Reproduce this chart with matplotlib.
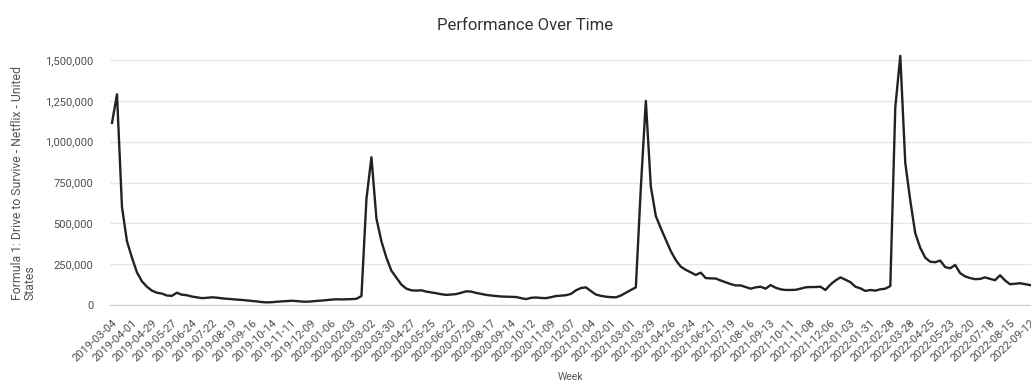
#!/usr/bin/env python
"""
weekly viewing performance chart
"""

import numpy as np
import pandas as pd
from matplotlib import pyplot as plt
from matplotlib.ticker import FuncFormatter

plt.rcParams["font.family"] = ["Roboto", "DejaVu Sans"]

# first week of the series and the weekly values
start_week = "2019-03-04"
views = [
    1115000, 1290000, 600000, 390000, 290000, 200000, 145000, 112000, 88000, 75000,
    70000, 58000, 56000, 75000, 63000, 60000, 52000, 47000, 42000, 44000,
    47000, 45000, 41000, 38000, 36000, 33000, 31000, 28000, 25000, 22000,
    18000, 16000, 17000, 20000, 22000, 24000, 26000, 24000, 21000, 20000,
    22000, 25000, 27000, 30000, 33000, 35000, 34000, 35000, 36000, 38000,
    55000, 650000, 905000, 530000, 390000, 290000, 210000, 168000, 125000, 100000,
    90000, 88000, 90000, 82000, 77000, 72000, 66000, 62000, 64000, 67000,
    75000, 84000, 82000, 74000, 68000, 62000, 58000, 55000, 52000, 51000,
    50000, 49000, 42000, 36000, 44000, 46000, 43000, 42000, 48000, 55000,
    57000, 60000, 68000, 90000, 104000, 108000, 85000, 64000, 56000, 51000,
    48000, 47000, 58000, 75000, 92000, 108000, 720000, 1250000, 725000, 545000,
    470000, 400000, 330000, 275000, 235000, 215000, 200000, 184000, 198000, 165000,
    163000, 162000, 150000, 139000, 128000, 120000, 120000, 110000, 100000, 108000,
    112000, 100000, 122000, 106000, 96000, 92000, 92000, 93000, 100000, 108000,
    110000, 110000, 112000, 92000, 125000, 150000, 169000, 155000, 140000, 112000,
    102000, 86000, 92000, 88000, 96000, 100000, 116000, 1210000, 1525000, 870000,
    640000, 440000, 350000, 290000, 265000, 262000, 272000, 232000, 225000, 245000,
    195000, 175000, 165000, 158000, 160000, 169000, 160000, 152000, 182000, 150000,
    127000, 130000, 133000, 128000, 122000,
]
y_ticks = [0, 250000, 500000, 750000, 1000000, 1250000, 1500000]

weeks = pd.date_range(start_week, periods=len(views), freq="7D")
x = np.arange(len(views))
label_idx = x[::4]
labels = [weeks[i].strftime("%Y-%m-%d") for i in label_idx]

fig = plt.figure(figsize=(10.31, 3.82), dpi=100)
ax = fig.add_axes([110 / 1031, 77 / 382, 921 / 1031, 245 / 382])

# line
ax.plot(x, views, color="#222222", linewidth=1.7, clip_on=False, zorder=3)

# axes limits and ticks
ax.set_xlim(-0.4, 184.2)
ax.set_ylim(0, 1500000)
ax.set_yticks(y_ticks)
ax.yaxis.set_major_formatter(FuncFormatter(lambda v, p: f"{int(v):,}"))
ax.set_xticks(label_idx)
ax.set_xticklabels(labels, rotation=43, ha="right", rotation_mode="anchor",
                   fontsize=8, color="#4d4d4d")
ax.tick_params(axis="y", labelsize=8, labelcolor="#4d4d4d", length=0, pad=12)
ax.tick_params(axis="x", length=0, pad=9)

# grid and spines
ax.grid(axis="y", color="#e6e6e6", linewidth=1)
ax.set_axisbelow(True)
for side in ["top", "right", "left"]:
    ax.spines[side].set_visible(False)
ax.spines["bottom"].set_color("#cccccc")

# texts
ax.set_ylabel("Formula 1: Drive to Survive - Netflix - United\nStates",
              fontsize=8.8, color="#555555", multialignment="left",
              linespacing=0.95, labelpad=6)
ax.set_xlabel("Week", fontsize=7.5, color="#555555", labelpad=6)
fig.text(525 / 1031, 1 - 26 / 382, "Performance Over Time", ha="center",
         va="center", fontsize=12, color="#333333")

fig.savefig("out.png", dpi=100)
